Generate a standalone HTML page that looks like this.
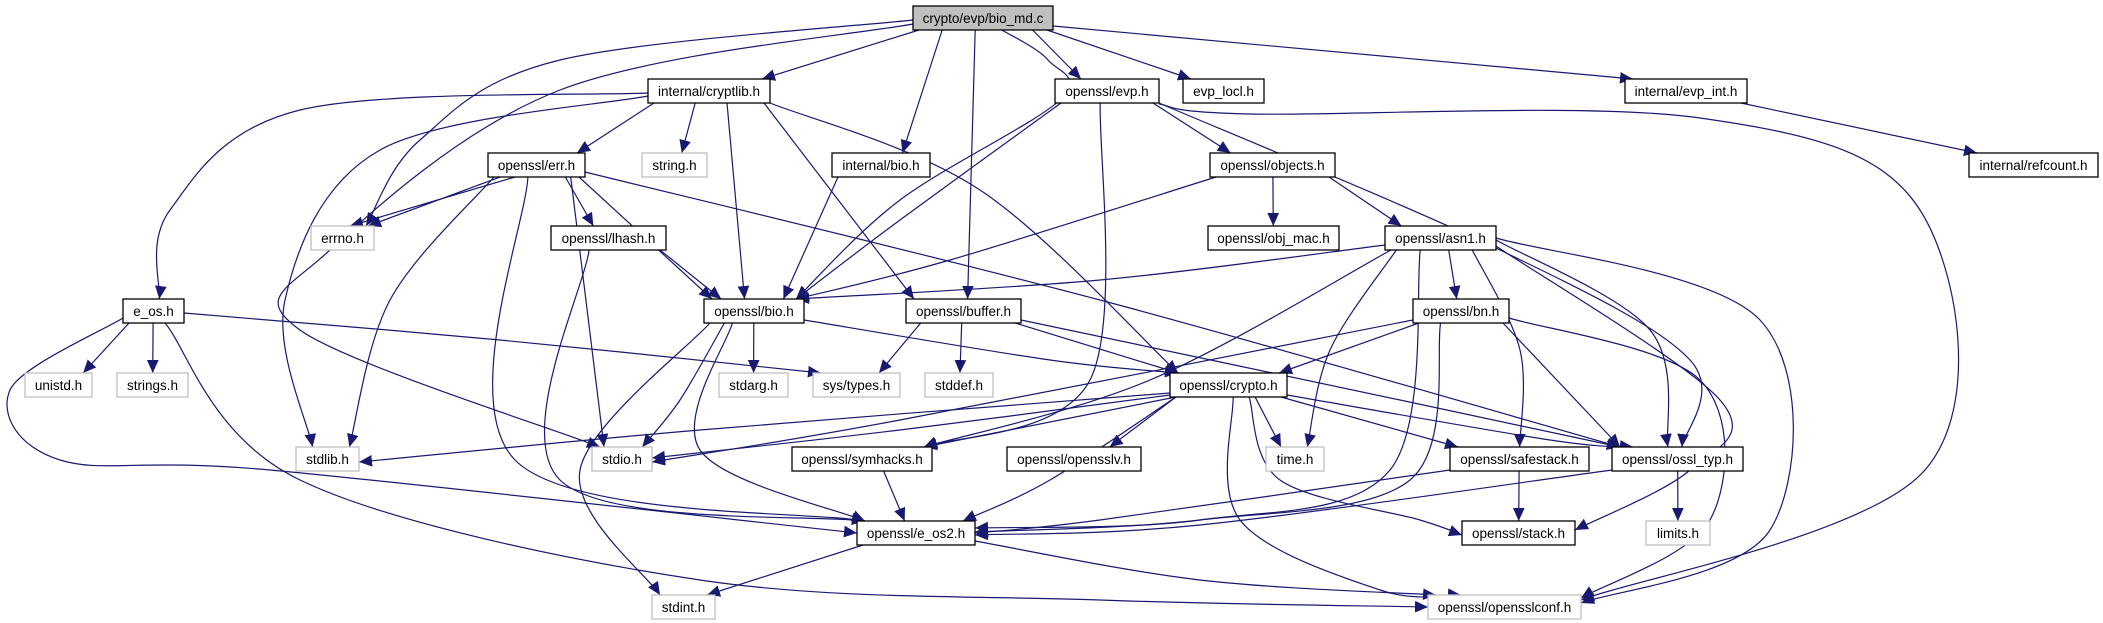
<!DOCTYPE html>
<html><head><meta charset="utf-8"><style>
html,body{margin:0;padding:0;background:#fff;width:2103px;height:623px;overflow:hidden}
svg{display:block}
text{font-family:"Liberation Sans",Arial,sans-serif;font-size:13.5px;fill:#000}
.n rect{fill:#fff;stroke:#000;stroke-width:1.3}
.g rect{fill:#fff;stroke:#bfbfbf;stroke-width:1.3}
.r rect{fill:#bfbfbf;stroke:#000;stroke-width:1.3}
</style></head><body>
<svg id="s" width="2103" height="623" viewBox="0 0 2103 623" xmlns="http://www.w3.org/2000/svg">
<defs><marker id="a" viewBox="0 0 10 10" refX="10" refY="5" markerWidth="13" markerHeight="13" markerUnits="userSpaceOnUse" orient="auto"><path d="M0,0.5 L10,5 L0,9.5 z" fill="#191970"/></marker></defs>
<g id="edges" fill="none" stroke="#191970" stroke-width="1.2"></g>
<g id="nodes">
<g class="r"><rect x="913" y="6" width="140" height="24"/><text x="983" y="23" text-anchor="middle">crypto/evp/bio_md.c</text></g>
<g class="n"><rect x="648" y="79" width="122" height="24"/><text x="709" y="96" text-anchor="middle">internal/cryptlib.h</text></g>
<g class="n"><rect x="1055" y="79" width="104" height="24"/><text x="1107" y="96" text-anchor="middle">openssl/evp.h</text></g>
<g class="n"><rect x="1183" y="79" width="81" height="24"/><text x="1223.5" y="96" text-anchor="middle">evp_locl.h</text></g>
<g class="n"><rect x="1625" y="79" width="122" height="24"/><text x="1686" y="96" text-anchor="middle">internal/evp_int.h</text></g>
<g class="n"><rect x="1969" y="153" width="129" height="24"/><text x="2033.5" y="170" text-anchor="middle">internal/refcount.h</text></g>
<g class="n"><rect x="488" y="153" width="97" height="24"/><text x="536.5" y="170" text-anchor="middle">openssl/err.h</text></g>
<g class="g"><rect x="642" y="153" width="65" height="24"/><text x="674.5" y="170" text-anchor="middle">string.h</text></g>
<g class="n"><rect x="832" y="153" width="98" height="24"/><text x="881" y="170" text-anchor="middle">internal/bio.h</text></g>
<g class="n"><rect x="1210" y="153" width="125" height="24"/><text x="1272.5" y="170" text-anchor="middle">openssl/objects.h</text></g>
<g class="g"><rect x="311" y="226" width="63" height="24"/><text x="342.5" y="243" text-anchor="middle">errno.h</text></g>
<g class="n"><rect x="551" y="226" width="115" height="24"/><text x="608.5" y="243" text-anchor="middle">openssl/lhash.h</text></g>
<g class="n"><rect x="1208" y="226" width="131" height="24"/><text x="1273.5" y="243" text-anchor="middle">openssl/obj_mac.h</text></g>
<g class="n"><rect x="1385" y="226" width="111" height="24"/><text x="1440.5" y="243" text-anchor="middle">openssl/asn1.h</text></g>
<g class="n"><rect x="123" y="299" width="61" height="24"/><text x="153.5" y="316" text-anchor="middle">e_os.h</text></g>
<g class="n"><rect x="704" y="299" width="100" height="24"/><text x="754" y="316" text-anchor="middle">openssl/bio.h</text></g>
<g class="n"><rect x="906" y="299" width="115" height="24"/><text x="963.5" y="316" text-anchor="middle">openssl/buffer.h</text></g>
<g class="n"><rect x="1413" y="299" width="96" height="24"/><text x="1461" y="316" text-anchor="middle">openssl/bn.h</text></g>
<g class="g"><rect x="25" y="373" width="67" height="24"/><text x="58.5" y="390" text-anchor="middle">unistd.h</text></g>
<g class="g"><rect x="117" y="373" width="71" height="24"/><text x="152.5" y="390" text-anchor="middle">strings.h</text></g>
<g class="g"><rect x="719" y="373" width="69" height="24"/><text x="753.5" y="390" text-anchor="middle">stdarg.h</text></g>
<g class="g"><rect x="813" y="373" width="87" height="24"/><text x="856.5" y="390" text-anchor="middle">sys/types.h</text></g>
<g class="g"><rect x="925" y="373" width="68" height="24"/><text x="959" y="390" text-anchor="middle">stddef.h</text></g>
<g class="n"><rect x="1170" y="373" width="117" height="24"/><text x="1228.5" y="390" text-anchor="middle">openssl/crypto.h</text></g>
<g class="g"><rect x="296" y="447" width="63" height="24"/><text x="327.5" y="464" text-anchor="middle">stdlib.h</text></g>
<g class="g"><rect x="592" y="447" width="60" height="24"/><text x="622" y="464" text-anchor="middle">stdio.h</text></g>
<g class="n"><rect x="792" y="447" width="140" height="24"/><text x="862" y="464" text-anchor="middle">openssl/symhacks.h</text></g>
<g class="n"><rect x="1007" y="447" width="134" height="24"/><text x="1074" y="464" text-anchor="middle">openssl/opensslv.h</text></g>
<g class="g"><rect x="1266" y="447" width="58" height="24"/><text x="1295" y="464" text-anchor="middle">time.h</text></g>
<g class="n"><rect x="1450" y="447" width="139" height="24"/><text x="1519.5" y="464" text-anchor="middle">openssl/safestack.h</text></g>
<g class="n"><rect x="1612" y="447" width="131" height="24"/><text x="1677.5" y="464" text-anchor="middle">openssl/ossl_typ.h</text></g>
<g class="n"><rect x="857" y="521" width="118" height="24"/><text x="916" y="538" text-anchor="middle">openssl/e_os2.h</text></g>
<g class="n"><rect x="1462" y="521" width="113" height="24"/><text x="1518.5" y="538" text-anchor="middle">openssl/stack.h</text></g>
<g class="g"><rect x="1646" y="521" width="64" height="24"/><text x="1678" y="538" text-anchor="middle">limits.h</text></g>
<g class="g"><rect x="652" y="595" width="63" height="24"/><text x="683.5" y="612" text-anchor="middle">stdint.h</text></g>
<g class="g"><rect x="1428" y="595" width="153" height="24"/><text x="1504.5" y="612" text-anchor="middle">openssl/opensslconf.h</text></g>
</g>
</svg>
<script>
var N={bmd:[913,6,140],cl:[648,79,122],evp:[1055,79,104],locl:[1183,79,81],eint:[1625,79,122],ref:[1969,153,129],err:[488,153,97],str:[642,153,65],ibio:[832,153,98],obj:[1210,153,125],errno:[311,226,63],lh:[551,226,115],om:[1208,226,131],asn:[1385,226,111],eos:[123,299,61],bio:[704,299,100],buf:[906,299,115],bn:[1413,299,96],uni:[25,373,67],strs:[117,373,71],sa:[719,373,69],st:[813,373,87],sd:[925,373,68],cr:[1170,373,117],sl:[296,447,63],sio:[592,447,60],sym:[792,447,140],sv:[1007,447,134],tm:[1266,447,58],ss:[1450,447,139],ot:[1612,447,131],e2:[857,521,118],stk:[1462,521,113],lim:[1646,521,64],si:[652,595,63],conf:[1428,595,153]};
function cx(n){return n[0]+n[2]/2}
function cl(v,a,b){return Math.max(a,Math.min(b,v))}
var E=[
['bmd','errno',[[560,60],[420,140]],[913,20]],
['bmd','sio',[[560,90],[330,250],[300,330]],[913,24]],
['bmd','cl'],['bmd','ibio'],['bmd','buf'],['bmd','evp'],['bmd','locl'],['bmd','eint',[],[1053,26]],['bmd','bio',[[1048,60],[1060,100],[900,200]],[1002,30]],
['cl','eos',[[300,110],[170,210]],[648,93]],['cl','sl',[[380,150],[285,300]],[648,96]],['cl','err'],['cl','str'],['cl','bio'],['cl','buf'],['cl','cr',[[980,190]],[770,103]],
['err','errno',[],[515,177],[350,226]],['err','errno',[],[500,177],[368,226]],['err','sl',[[390,300]]],['err','sio'],['err','e2',[[515,460]]],['err','lh'],['err','bio'],['err','ot',[[1100,300]],[585,172]],
['lh','bio'],['lh','e2',[[560,480]]],['ibio','bio'],
['evp','bio',[[900,220]]],['evp','sym',[[1090,380]]],['evp','obj'],['evp','ot',[[1500,250],[1690,360]],[1159,103]],['evp','conf',[[1250,114],[1700,118],[1920,210],[1925,470]],[1159,104],[1581,600]],
['obj','bio',[[950,260]]],['obj','om'],['obj','asn'],
['asn','bio',[[1100,280]],[1385,245]],['asn','bn'],['asn','sym',[[1150,380]]],['asn','e2',[[1390,470],[1200,520]],null,[975,528]],['asn','tm',[[1330,350]]],['asn','ss',[[1520,350]]],['asn','ot',[[1650,330]],[1496,240]],['asn','stk',[[1720,400],[1690,470]],[1496,246],[1575,530]],['asn','conf',[[1760,320],[1770,530]],[1496,238],[1581,603]],
['eos','uni'],['eos','strs'],['eos','st',[[500,340]],[184,313]],['eos','e2',[[10,390],[60,460],[270,470]],[123,318],[857,533]],['eos','conf',[[300,480],[700,580],[1100,600]],[165,323],[1428,607]],
['bio','sa'],['bio','sio',[[680,400]]],['bio','e2',[[700,450]]],['bio','si',[[580,470]]],['bio','cr',[[1050,360]],[804,320]],
['buf','st'],['buf','sd'],['buf','cr'],['buf','ot',[[1400,400]],[1021,320]],
['bn','cr'],['bn','sio',[[900,420]],[1413,320],[652,462]],['bn','e2',[[1410,480],[1200,520]],null,[975,532]],['bn','ot'],['bn','conf',[[1700,380],[1710,520]],[1509,318],[1581,598]],
['cr','sl',[[700,430]],[1170,393],[359,462]],['cr','sio',[[900,430]],[1170,395],[652,458]],['cr','sym'],['cr','sv'],['cr','e2',[[1050,480]]],['cr','tm'],['cr','ss'],['cr','ot',[[1550,440]],[1287,395]],['cr','stk',[[1280,480],[1420,520]],null,[1462,535]],['cr','conf',[[1240,520],[1380,590]]],
['sym','e2'],['ss','stk'],['ss','e2',[[1100,520]],[1450,470],[975,533]],['ot','lim'],['ot','e2',[[1200,525]],[1612,470],[975,535]],
['e2','si'],['e2','conf',[[1200,580]],[975,541]],['eint','ref']
];
var g=document.getElementById('edges'),s='';
function cr(p){var d='M'+p[0][0]+','+p[0][1];if(p.length==2)return d+' L'+p[1][0]+','+p[1][1];
for(var i=0;i<p.length-1;i++){var p0=p[i-1]||p[i],p1=p[i],p2=p[i+1],p3=p[i+2]||p2;
d+=' C'+(p1[0]+(p2[0]-p0[0])/6).toFixed(1)+','+(p1[1]+(p2[1]-p0[1])/6).toFixed(1)+' '+(p2[0]-(p3[0]-p1[0])/6).toFixed(1)+','+(p2[1]-(p3[1]-p1[1])/6).toFixed(1)+' '+p2[0]+','+p2[1];}return d;}
E.forEach(function(e){var a=N[e[0]],b=N[e[1]],w=e[2]||[];var start=e[3],end=e[4];
var tx=cx(b);
if(!start){var ref=w.length?w[0][0]:tx;start=[cl(cx(a)+(ref-cx(a))*0.4,a[0]+6,a[0]+a[2]-6),a[1]+24];}
var last=w.length?w[w.length-1]:start;
if(!end){end=[cl(tx+(last[0]-tx)*0.35,b[0]+8,b[0]+b[2]-8),b[1]];}
s+='<path d="'+cr([start].concat(w).concat([end]))+'" marker-end="url(#a)"/>';});
g.innerHTML=s;
</script>
</body></html>
